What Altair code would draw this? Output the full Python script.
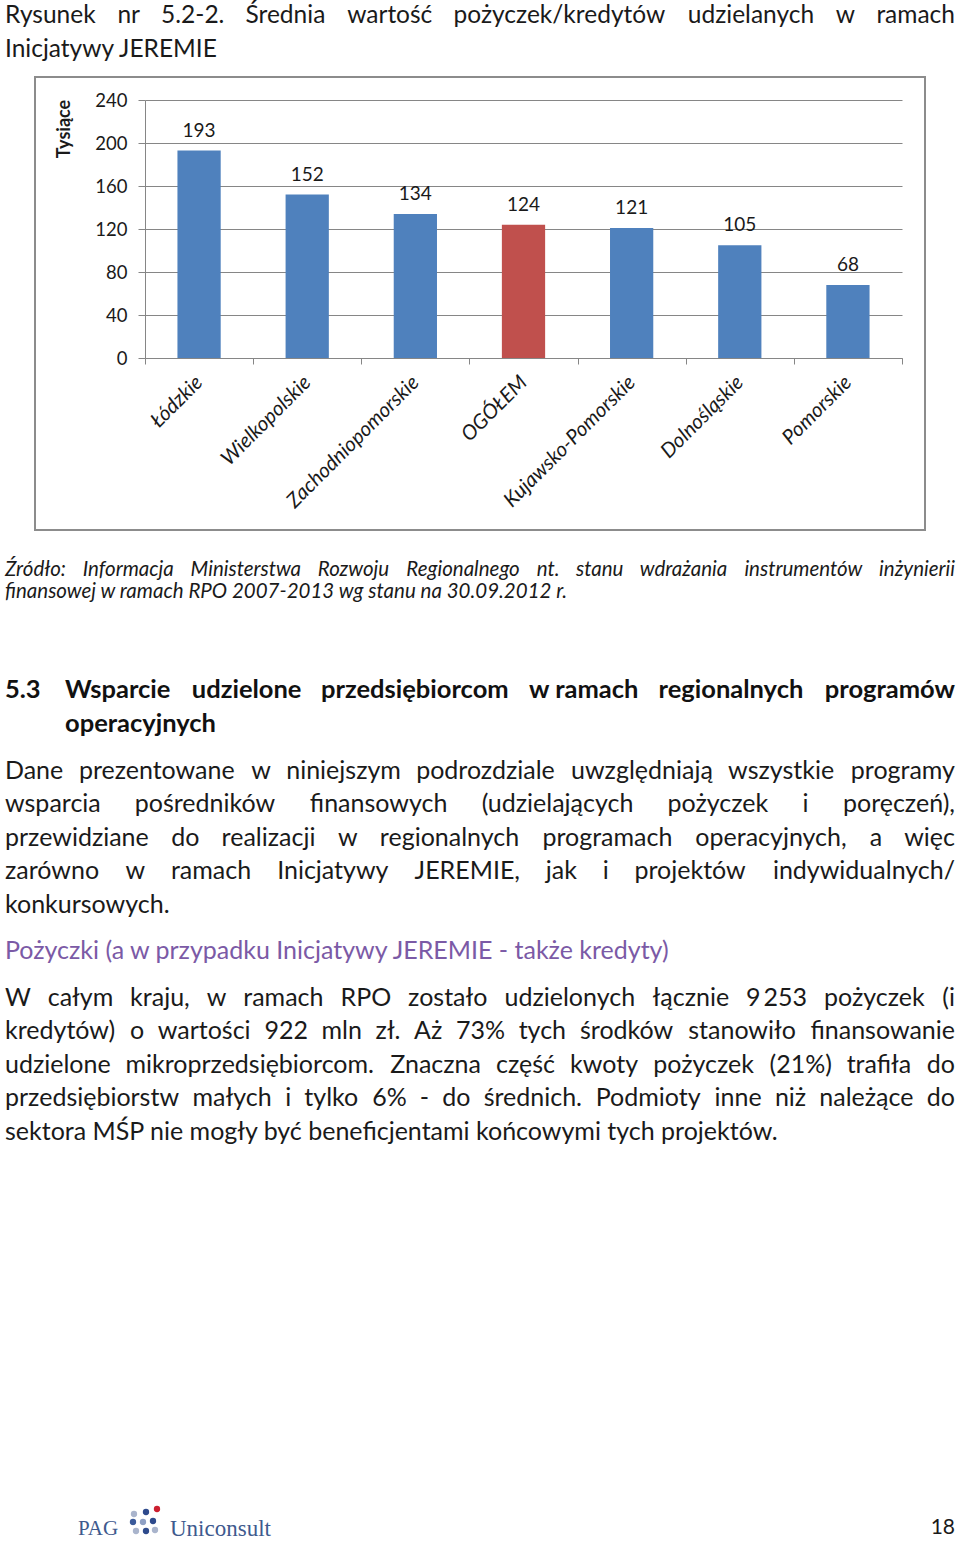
import os
import struct
import altair as alt
import pandas as pd

# ---------------- chart data ----------------
categories = ["Łódzkie", "Wielkopolskie", "Zachodniopomorskie", "OGÓŁEM",
              "Kujawsko-Pomorskie", "Dolnośląskie", "Pomorskie"]
values = [193, 152, 134, 124, 121, 105, 68]
bar_colors = ["#4F81BD", "#4F81BD", "#4F81BD", "#C0504D", "#4F81BD", "#4F81BD", "#4F81BD"]
y_ticks = [0, 40, 80, 120, 160, 200, 240]
y_title = "Tysiące"

# ---------------- page text ----------------
caption_lines = [
    ["Rysunek", "nr", "5.2-2.", "Średnia", "wartość", "pożyczek/kredytów", "udzielanych", "w", "ramach"],
    ["Inicjatywy JEREMIE"],
]
source_lines = [
    ["Źródło:", "Informacja", "Ministerstwa", "Rozwoju", "Regionalnego", "nt.", "stanu", "wdrażania", "instrumentów", "inżynierii"],
    ["finansowej w ramach RPO 2007-2013 wg stanu na 30.09.2012 r."],
]
heading_number = "5.3"
heading_lines = [
    ["Wsparcie", "udzielone", "przedsiębiorcom", "w ramach", "regionalnych", "programów"],
    ["operacyjnych"],
]
para1_lines = [
    ["Dane", "prezentowane", "w", "niniejszym", "podrozdziale", "uwzględniają", "wszystkie", "programy"],
    ["wsparcia", "pośredników", "finansowych", "(udzielających", "pożyczek", "i", "poręczeń),"],
    ["przewidziane", "do", "realizacji", "w", "regionalnych", "programach", "operacyjnych,", "a", "więc"],
    ["zarówno", "w", "ramach", "Inicjatywy", "JEREMIE,", "jak", "i", "projektów", "indywidualnych/"],
    ["konkursowych."],
]
purple_lines = [["Pożyczki (a w przypadku Inicjatywy JEREMIE - także kredyty)"]]
para2_lines = [
    ["W", "całym", "kraju,", "w", "ramach", "RPO", "zostało", "udzielonych", "łącznie", "9\u2009253", "pożyczek", "(i"],
    ["kredytów)", "o", "wartości", "922", "mln", "zł.", "Aż", "73%", "tych", "środków", "stanowiło", "finansowanie"],
    ["udzielone", "mikroprzedsiębiorcom.", "Znaczna", "część", "kwoty", "pożyczek", "(21%)", "trafiła", "do"],
    ["przedsiębiorstw", "małych", "i", "tylko", "6%", "-", "do", "średnich.", "Podmioty", "inne", "niż", "należące", "do"],
    ["sektora MŚP nie mogły być beneficjentami końcowymi tych projektów."],
]
page_number = "18"

# ---------------- layout (page pixels) ----------------
OX, OY = 145, 100          # plot-area origin on the page
PW, PH = 757, 258          # plot-area size
LEFT, RIGHT = 5, 955       # text margins

# (line centre y, left x, justified)
caption_layout = [(16, LEFT, True), (50, LEFT, False)]
source_layout = [(570, LEFT, True), (592, LEFT, False)]
heading_layout = [(690, 65, True), (724, 65, False)]
para1_layout = [(771, LEFT, True), (804, LEFT, True), (838, LEFT, True), (871, LEFT, True), (905, LEFT, False)]
purple_layout = [(951, LEFT, False)]
para2_layout = [(998, LEFT, True), (1031, LEFT, True), (1065, LEFT, True), (1098, LEFT, True), (1132, LEFT, False)]

BODY_FONT = "Lato"
CHART_FONT = "Lato"


# ---------- tiny TrueType advance-width reader (for justified lines) ----------
def find_font(fname):
    for root in ["/usr/share/fonts", "/usr/local/share/fonts", os.path.expanduser("~/.fonts"),
                 os.path.expanduser("~/.local/share/fonts")]:
        if not os.path.isdir(root):
            continue
        for dirpath, _, files in os.walk(root):
            if fname in files:
                return os.path.join(dirpath, fname)
    return None


class Metrics:
    def __init__(self, fname):
        self.ok = False
        try:
            path = find_font(fname)
            data = open(path, "rb").read()
            n = struct.unpack(">H", data[4:6])[0]
            tables = {}
            for i in range(n):
                rec = data[12 + 16 * i: 28 + 16 * i]
                tables[rec[:4].decode("latin1")] = struct.unpack(">I", rec[8:12])[0]
            head = tables["head"]
            self.upem = struct.unpack(">H", data[head + 18: head + 20])[0]
            hhea = tables["hhea"]
            nhm = struct.unpack(">H", data[hhea + 34: hhea + 36])[0]
            hmtx = tables["hmtx"]
            self.adv = [struct.unpack(">H", data[hmtx + 4 * i: hmtx + 4 * i + 2])[0] for i in range(nhm)]
            self.cmap = self._cmap(data, tables["cmap"])
            self.ok = True
        except Exception:
            self.ok = False

    @staticmethod
    def _cmap(data, base):
        n = struct.unpack(">H", data[base + 2: base + 4])[0]
        subs = {}
        for i in range(n):
            pid, eid, off = struct.unpack(">HHI", data[base + 4 + 8 * i: base + 12 + 8 * i])
            subs[(pid, eid)] = base + off
        for key in [(3, 10), (0, 4), (3, 1), (0, 3)]:
            if key not in subs:
                continue
            off = subs[key]
            fmt = struct.unpack(">H", data[off: off + 2])[0]
            m = {}
            if fmt == 12:
                ng = struct.unpack(">I", data[off + 12: off + 16])[0]
                for j in range(ng):
                    s, e, g = struct.unpack(">III", data[off + 16 + 12 * j: off + 28 + 12 * j])
                    if e - s > 70000:
                        continue
                    for c in range(s, e + 1):
                        m[c] = g + (c - s)
                return m
            if fmt == 4:
                seg2 = struct.unpack(">H", data[off + 6: off + 8])[0]
                seg = seg2 // 2
                ends = struct.unpack(">%dH" % seg, data[off + 14: off + 14 + seg2])
                so = off + 16 + seg2
                starts = struct.unpack(">%dH" % seg, data[so: so + seg2])
                do = so + seg2
                deltas = struct.unpack(">%dh" % seg, data[do: do + seg2])
                ro = do + seg2
                ros = struct.unpack(">%dH" % seg, data[ro: ro + seg2])
                for i in range(seg):
                    for c in range(starts[i], ends[i] + 1):
                        if c == 0xFFFF:
                            continue
                        if ros[i] == 0:
                            g = (c + deltas[i]) & 0xFFFF
                        else:
                            addr = ro + 2 * i + ros[i] + 2 * (c - starts[i])
                            g = struct.unpack(">H", data[addr: addr + 2])[0]
                            if g:
                                g = (g + deltas[i]) & 0xFFFF
                        m[c] = g
                return m
        raise ValueError("no cmap")

    def width(self, text, size):
        if not self.ok:
            return len(text) * 0.52 * size
        tot = 0
        for ch in text:
            g = self.cmap.get(ord(ch), 0)
            tot += self.adv[min(g, len(self.adv) - 1)]
        return tot * size / self.upem


METRICS = {
    ("normal", "normal"): Metrics("Lato-Regular.ttf"),
    ("normal", "bold"): Metrics("Lato-Bold.ttf"),
    ("italic", "normal"): Metrics("Lato-Italic.ttf"),
}


def build_rows(lines, layout, size, style, weight):
    met = METRICS[(style, weight)]
    left, right = [], []
    for words, (py, x0, justified) in zip(lines, layout):
        if not justified or len(words) < 2:
            left.append((" ".join(words), x0 - OX, py - OY))
            continue
        widths = [met.width(w, size) for w in words]
        gap = (RIGHT - x0 - sum(widths)) / (len(words) - 1)
        gap = max(gap, 0.25 * size)
        x = x0
        for i, (w, wd) in enumerate(zip(words, widths)):
            if i == len(words) - 1:
                right.append((w, RIGHT - OX, py - OY))
            else:
                left.append((w, x - OX, py - OY))
            x += wd + gap
    return left, right


def text_layer(rows, size, color="#1a1a1a", align="left", style="normal", weight="normal",
               font=BODY_FONT):
    df = pd.DataFrame(rows, columns=["t", "px", "py"])
    return alt.Chart(df).mark_text(
        font=font, fontSize=size, color=color, align=align, baseline="middle",
        fontStyle=style, fontWeight=weight
    ).encode(
        x=alt.X("px:Q", scale=None, axis=None),
        y=alt.Y("py:Q", scale=None, axis=None),
        text="t:N",
    )


layers = []

# chart frame
frame = alt.Chart(pd.DataFrame({"a": [0]})).mark_rect(
    filled=False, stroke="#8c8c8c", strokeWidth=2
).encode(
    x=alt.value(35 - OX), x2=alt.value(925 - OX),
    y=alt.value(77 - OY), y2=alt.value(530 - OY),
)
layers.append(frame)

df = pd.DataFrame({"cat": categories, "val": values, "col": bar_colors})

x_enc = alt.X(
    "cat:N", sort=categories,
    scale=alt.Scale(paddingInner=0, paddingOuter=0),
    axis=alt.Axis(
        title=None, labelAngle=-45, labelAlign="right", labelBaseline="middle",
        labelFont=CHART_FONT, labelFontStyle="italic", labelFontSize=20.5,
        labelColor="#1a1a1a", labelPadding=15, tickBand="extent", tickSize=6,
        tickColor="#868686", domainColor="#868686", grid=False,
    ),
)
y_enc = alt.Y(
    "val:Q",
    scale=alt.Scale(domain=[0, 240], nice=False),
    axis=alt.Axis(
        title=None, values=y_ticks, grid=True, gridColor="#868686", gridWidth=1,
        tickColor="#868686", tickSize=7, domainColor="#868686",
        labelFont=CHART_FONT, labelFontSize=18.5, labelColor="#1a1a1a", labelPadding=11,
    ),
)

bars = alt.Chart(df).mark_bar(width=alt.RelativeBandSize(0.4)).encode(
    x=x_enc, y=y_enc, color=alt.Color("col:N", scale=None),
)
labels = alt.Chart(df).mark_text(
    font=CHART_FONT, fontSize=19, color="#1a1a1a", baseline="alphabetic", dy=-14
).encode(
    x=alt.X("cat:N", sort=categories), y=alt.Y("val:Q"), text="val:Q",
)
ytitle = alt.Chart(pd.DataFrame({"t": [y_title]})).mark_text(
    font=CHART_FONT, fontSize=18, fontWeight="bold", angle=270, color="#1a1a1a",
    align="center", baseline="middle",
).encode(x=alt.value(65 - OX), y=alt.value(129 - OY), text="t:N")
layers += [bars, labels, ytitle]

# page text
layers.append(text_layer([(heading_number, LEFT - OX, 690 - OY)], 25.5, "#111111", weight="bold"))
for lines, layout, size, color, style, weight in [
    (caption_lines, caption_layout, 24.5, "#1a1a1a", "normal", "normal"),
    (source_lines, source_layout, 20.5, "#1a1a1a", "italic", "normal"),
    (heading_lines, heading_layout, 25.5, "#111111", "normal", "bold"),
    (para1_lines, para1_layout, 25, "#1a1a1a", "normal", "normal"),
    (purple_lines, purple_layout, 25, "#7b5aa6", "normal", "normal"),
    (para2_lines, para2_layout, 25, "#1a1a1a", "normal", "normal"),
]:
    left, right = build_rows(lines, layout, size, style, weight)
    if left:
        layers.append(text_layer(left, size, color, "left", style, weight))
    if right:
        layers.append(text_layer(right, size, color, "right", style, weight))

# footer
layers.append(text_layer([(page_number, RIGHT - OX, 1528 - OY)], 21, "#1a1a1a", "right"))
logo_blue = "#3e5a8e"
layers.append(text_layer([("PAG", 78 - OX, 1529 - OY)], 21, logo_blue, "left", font="Liberation Serif"))
layers.append(text_layer([("Uniconsult", 170 - OX, 1529 - OY)], 23, logo_blue, "left", font="Liberation Serif"))
dots = pd.DataFrame({
    "px": [134, 146, 157, 133, 143, 153, 136, 146, 155],
    "py": [1514, 1512, 1509, 1522, 1522, 1521, 1531, 1531, 1530],
    "c": ["#a9b4cc", "#2e4a8c", "#cc1f2f", "#3a5a9a", "#8fa0c4", "#2e4a8c", "#a9b4cc", "#2e4a8c", "#a9b4cc"],
})
dots["px"] = dots["px"] - OX
dots["py"] = dots["py"] - OY
layers.append(alt.Chart(dots).mark_circle(size=40, opacity=1).encode(
    x=alt.X("px:Q", scale=None, axis=None),
    y=alt.Y("py:Q", scale=None, axis=None),
    color=alt.Color("c:N", scale=None),
))

chart = alt.layer(*layers).properties(
    width=PW, height=PH,
    padding={"left": OX, "top": OY, "right": 960 - OX - PW, "bottom": 1541 - OY - PH},
    autosize=alt.AutoSizeParams(type="none"),
    background="white",
).configure_view(stroke=None)

chart.save("out.html", embed_options={"renderer": "svg", "actions": False})
